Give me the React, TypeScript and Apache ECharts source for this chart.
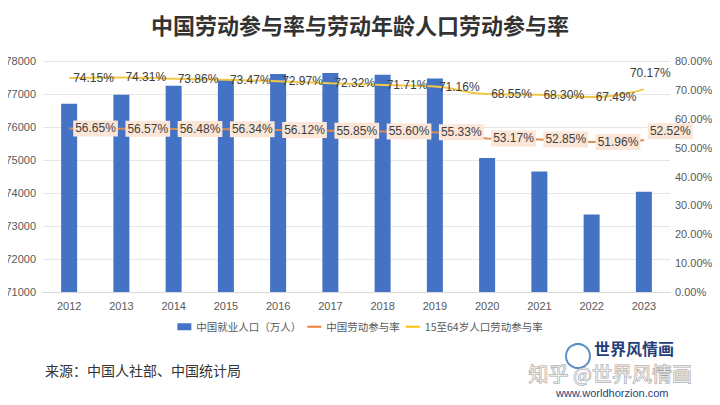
import React, { useEffect, useRef } from "react";
import * as echarts from "echarts";

const years = ["2012", "2013", "2014", "2015", "2016", "2017", "2018", "2019", "2020", "2021", "2022", "2023"];
const employed = [76704, 76977, 77253, 77451, 77603, 77640, 77586, 77471, 75064, 74652, 73351, 74041];
const laborRate = [56.65, 56.57, 56.48, 56.34, 56.12, 55.85, 55.6, 55.33, 53.17, 52.85, 51.96, 52.52];
const workingAgeRate = [74.15, 74.31, 73.86, 73.47, 72.97, 72.32, 71.71, 71.16, 68.55, 68.3, 67.49, 70.17];

const FONT = "'Liberation Sans', Arial, sans-serif";
const CJK = "'Noto Sans CJK SC', sans-serif";
const LINE_ICON = "path://M0,0 L14,0 L14,2 L0,2 Z";

export default function App() {
  const ref = useRef<HTMLDivElement>(null);
  useEffect(() => {
    if (!ref.current) return;
    const chart = echarts.init(ref.current, undefined, { renderer: "svg" });
    const last = years.length - 1;
    chart.setOption({
      animation: false,
      backgroundColor: "#ffffff",
      title: {
        text: "中国劳动参与率与劳动年龄人口劳动参与率",
        left: "center",
        top: 8,
        textStyle: { fontFamily: CJK, fontSize: 22, fontWeight: "bold", color: "#333333" },
      },
      legend: {
        bottom: 68,
        left: "center",
        itemGap: 6,
        itemWidth: 14,
        itemHeight: 7,
        textStyle: { fontFamily: CJK, fontSize: 10.5, color: "#595959" },
        data: [
          { name: "中国就业人口（万人）", icon: "rect" },
          { name: "中国劳动参与率", icon: LINE_ICON, itemStyle: { color: "#ED7D31", opacity: 1 } },
          { name: "15至64岁人口劳动参与率", icon: LINE_ICON, itemStyle: { color: "#FFC000", opacity: 1 } },
        ],
      },
      grid: { left: 43, right: 50, top: 61, bottom: 113 },
      xAxis: {
        type: "category",
        data: years,
        axisTick: { show: false },
        axisLine: { lineStyle: { color: "#D9D9D9" } },
        axisLabel: { fontFamily: FONT, fontSize: 11, color: "#595959", margin: 8 },
      },
      yAxis: [
        {
          type: "value",
          min: 71000,
          max: 78000,
          interval: 1000,
          axisLabel: {
            fontFamily: FONT,
            fontSize: 11,
            color: "#595959",
            margin: 7,
            formatter: (v: number) => String(v),
          },
          splitLine: { lineStyle: { color: "#E6E6E6" } },
        },
        {
          type: "value",
          min: 0,
          max: 80,
          interval: 10,
          axisLabel: {
            fontFamily: FONT,
            fontSize: 11,
            color: "#595959",
            margin: 5,
            formatter: (v: number) => v.toFixed(2) + "%",
          },
          splitLine: { show: false },
        },
      ],
      series: [
        {
          name: "中国就业人口（万人）",
          type: "bar",
          data: employed,
          barWidth: 16,
          itemStyle: { color: "#4472C4" },
        },
        {
          name: "中国劳动参与率",
          type: "line",
          yAxisIndex: 1,
          data: laborRate,
          symbol: "circle",
          symbolSize: 0.1,
          showSymbol: true,
          lineStyle: { color: "#D98B55", width: 2 },
          itemStyle: { color: "#ED7D31" },
          label: {
            show: true,
            position: "right",
            distance: 4,
            formatter: (p: any) => Number(p.value).toFixed(2) + "%",
            fontFamily: FONT,
            fontSize: 12,
            color: "#404040",
            backgroundColor: "#FBE5D6",
            padding: [2, 2],
          },
          labelLayout: (p: any) =>
            p.dataIndex === last ? { hideOverlap: false, dy: -9 } : { hideOverlap: false },
          z: 3,
        },
        {
          name: "15至64岁人口劳动参与率",
          type: "line",
          yAxisIndex: 1,
          smooth: true,
          data: workingAgeRate,
          symbol: "circle",
          symbolSize: 0.1,
          showSymbol: true,
          lineStyle: { color: "#F2C84B", width: 2 },
          itemStyle: { color: "#FFC000" },
          label: {
            show: true,
            position: "right",
            distance: 4,
            formatter: (p: any) => Number(p.value).toFixed(2) + "%",
            fontFamily: FONT,
            fontSize: 12,
            color: "#404040",
          },
          labelLayout: (p: any) =>
            p.dataIndex === last ? { hideOverlap: false, dx: -18, dy: -16 } : { hideOverlap: false },
          z: 3,
        },
      ],
      graphic: [
        {
          type: "text",
          left: 45,
          top: 363,
          style: { text: "来源：中国人社部、中国统计局", fontFamily: CJK, fontSize: 14, fill: "#333333" },
        },
        {
          type: "text",
          left: 594,
          top: 340,
          style: { text: "世界风情画", fontFamily: CJK, fontSize: 16, fontWeight: "bold", fill: "#1F3F7A" },
        },
        {
          type: "circle",
          shape: { cx: 578, cy: 356, r: 12 },
          style: { fill: "none", stroke: "#5B8FC7", lineWidth: 2 },
        },
        {
          type: "text",
          left: 528,
          top: 363,
          style: {
            text: "知乎 @世界风情画",
            fontFamily: CJK,
            fontSize: 20,
            fill: "rgba(255,255,255,0.6)",
            stroke: "rgba(120,120,120,0.7)",
            lineWidth: 1,
          },
        },
        {
          type: "text",
          left: 556,
          top: 387,
          style: { text: "www.worldhorzion.com", fontFamily: FONT, fontSize: 11, fill: "#1F3F7A" },
        },
      ],
    });
    return () => chart.dispose();
  }, []);
  return <div ref={ref} style={{ width: 720, height: 405, margin: -8 }} />;
}
